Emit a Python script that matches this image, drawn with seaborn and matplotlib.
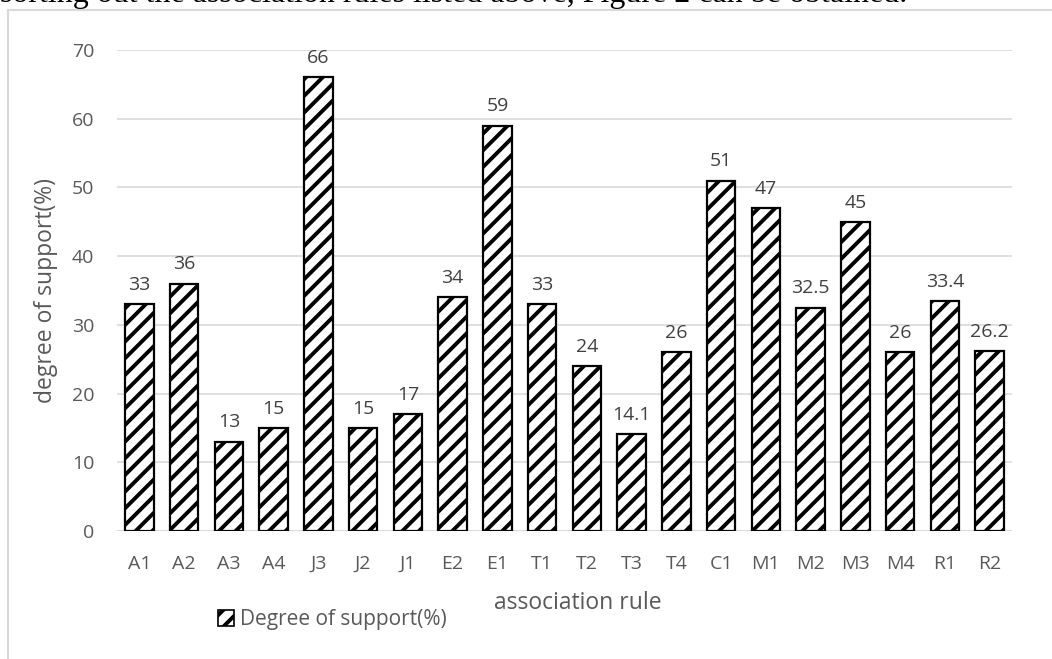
"""Degree of support per association rule, hatched bar chart."""

import matplotlib
matplotlib.use("Agg")
import matplotlib.pyplot as plt
import pandas as pd
import seaborn as sns
from matplotlib.lines import Line2D
from matplotlib.patches import Patch

rules = ["A1", "A2", "A3", "A4", "J3", "J2", "J1", "E2", "E1", "T1", "T2",
         "T3", "T4", "C1", "M1", "M2", "M3", "M4", "R1", "R2"]
support = [33, 36, 13, 15, 66, 15, 17, 34, 59, 33, 24,
           14.1, 26, 51, 47, 32.5, 45, 26, 33.4, 26.2]
labels = ["33", "36", "13", "15", "66", "15", "17", "34", "59", "33", "24",
          "14.1", "26", "51", "47", "32.5", "45", "26", "33.4", "26.2"]
yticks = [0, 10, 20, 30, 40, 50, 60, 70]

df = pd.DataFrame({"rule": rules, "support": support})

sns.set_style("white")
plt.rcParams["font.family"] = ["Open Sans", "DejaVu Sans"]
plt.rcParams["hatch.linewidth"] = 2.8
plt.rcParams["hatch.color"] = "black"

grey = "#595959"
fig = plt.figure(figsize=(10.52, 6.59), dpi=100)
ax = fig.add_axes([117 / 1052, 1 - 531 / 659, 895 / 1052, 481 / 659])

sns.barplot(data=df, x="rule", y="support", ax=ax, color="white",
            edgecolor="black", linewidth=1.6, width=0.64, zorder=3)
for bar in ax.patches:
    bar.set_hatch("//")

for bar, txt in zip(ax.patches, labels):
    ax.text(bar.get_x() + bar.get_width() / 2, bar.get_height() + 2.8, txt,
            ha="center", va="center", fontsize=14, color="#404040")

ax.set_ylim(0, 70)
ax.set_yticks(yticks)
ax.yaxis.grid(True, color="#d9d9d9", linewidth=1.2, zorder=0)
ax.set_axisbelow(True)
for side in ["top", "right", "left", "bottom"]:
    ax.spines[side].set_visible(False)
ax.axhline(0, color="#d9d9d9", linewidth=1.2, zorder=1)
ax.tick_params(axis="both", length=0, labelsize=14, labelcolor=grey)
ax.tick_params(axis="x", pad=17)
ax.tick_params(axis="y", pad=16.5)
ax.set_xlabel("association rule", fontsize=16.5, color=grey)
ax.set_ylabel("degree of support(%)", fontsize=16.5, color=grey)
ax.xaxis.set_label_coords(0.515, -0.124)
ax.yaxis.set_label_coords(-0.066, 0.5)

handle = Patch(facecolor="white", edgecolor="black", hatch="//",
               linewidth=1.2)
fig.legend([handle], ["Degree of support(%)"], loc="center",
           bbox_to_anchor=(332 / 1052, 1 - 620 / 659), frameon=False,
           fontsize=15, labelcolor=grey, handlelength=0.8, handleheight=0.8,
           handletextpad=0.25)

# chart frame edges and the cut-off caption line above it
fig.add_artist(Line2D([8 / 1052, 8 / 1052], [0, 1 - 10 / 659],
                      color="#d9d9d9", linewidth=1.5))
fig.add_artist(Line2D([8 / 1052, 1], [1 - 10 / 659, 1 - 10 / 659],
                      color="#d9d9d9", linewidth=1.5))
fig.text(0.0, 1 - 9 / 659,
         "sorting out the association rules listed above, Figure 2 can be obtained.",
         family=["Liberation Serif"], fontsize=23, ha="left", va="bottom",
         color="black")

fig.savefig("out.png", dpi=100)
